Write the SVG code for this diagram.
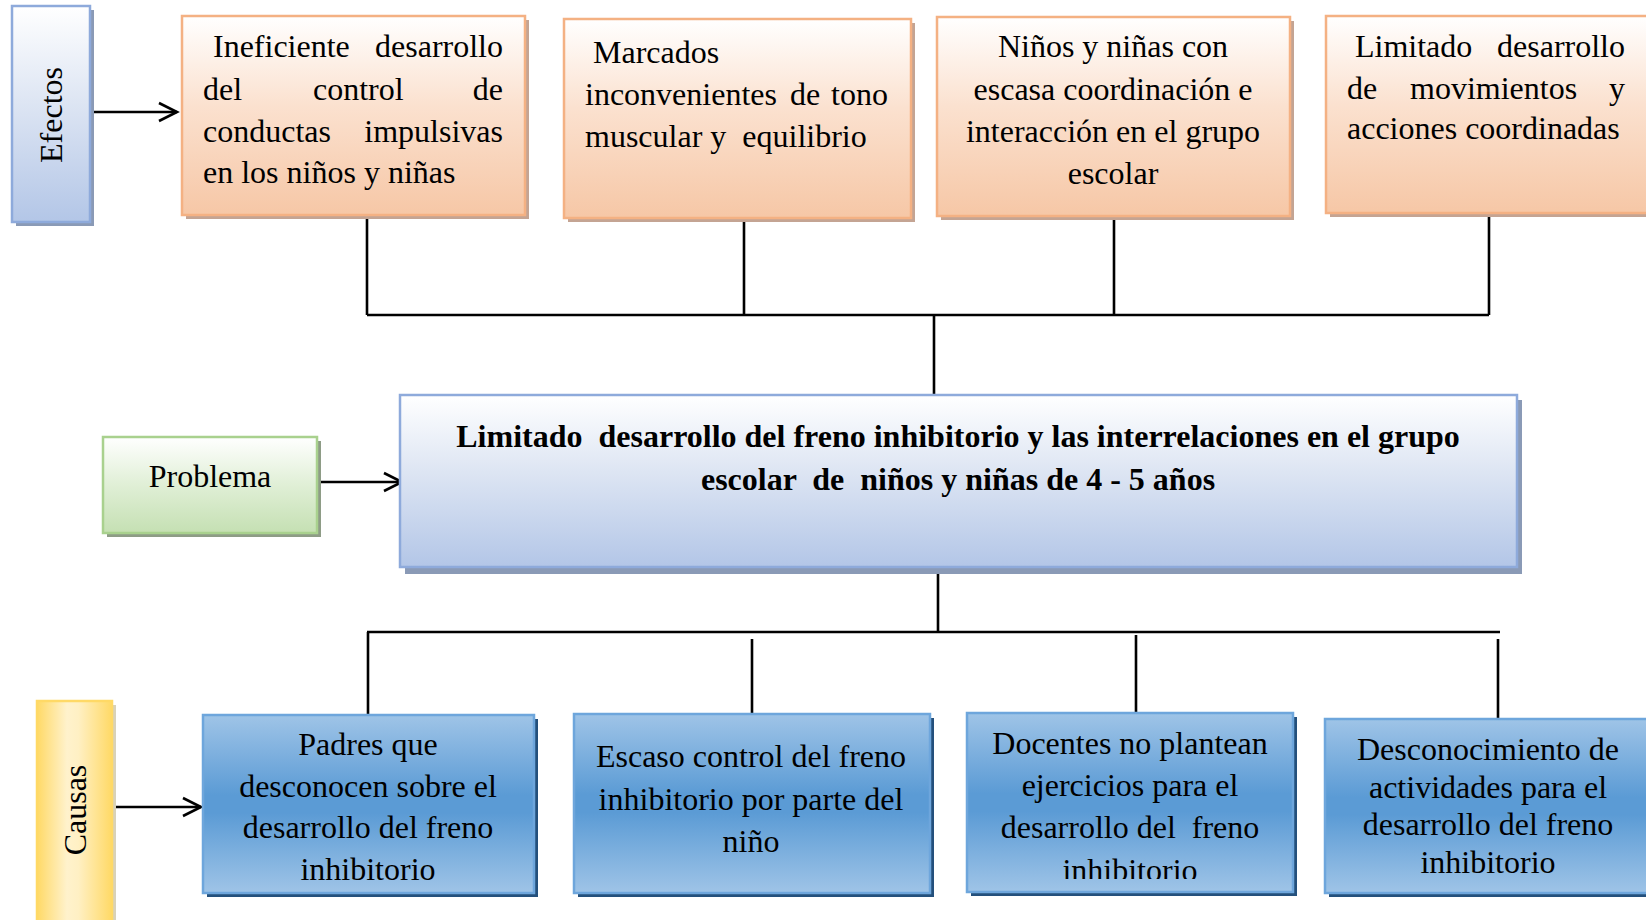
<svg xmlns="http://www.w3.org/2000/svg" width="1646" height="920" viewBox="0 0 1646 920">
<defs>
<linearGradient id="gOrange" x1="0" y1="0" x2="0" y2="1"><stop offset="0" stop-color="#ffffff"/><stop offset="0.45" stop-color="#fbe1cf"/><stop offset="1" stop-color="#f6c7a6"/></linearGradient>
<linearGradient id="gLav" x1="0" y1="0" x2="0" y2="1"><stop offset="0" stop-color="#ffffff"/><stop offset="0.45" stop-color="#dde5f3"/><stop offset="1" stop-color="#b3c6e7"/></linearGradient>
<linearGradient id="gGreen" x1="0" y1="0" x2="0" y2="1"><stop offset="0" stop-color="#ffffff"/><stop offset="0.5" stop-color="#e0efd6"/><stop offset="1" stop-color="#c5e0b3"/></linearGradient>
<linearGradient id="gBlue" x1="0" y1="0" x2="0" y2="1"><stop offset="0" stop-color="#9fc4e7"/><stop offset="0.45" stop-color="#5b9bd5"/><stop offset="0.55" stop-color="#5b9bd5"/><stop offset="1" stop-color="#9fc4e7"/></linearGradient>
<linearGradient id="gGold" x1="0" y1="0" x2="1" y2="0"><stop offset="0" stop-color="#ffd966"/><stop offset="0.4" stop-color="#fff2cc"/><stop offset="0.55" stop-color="#fff0c4"/><stop offset="1" stop-color="#ffd966"/></linearGradient>
<marker id="arr" markerUnits="userSpaceOnUse" markerWidth="24" markerHeight="24" viewBox="-20 -12 24 24" refX="0" refY="0" orient="auto"><path d="M-18,-9 L0,0 L-18,9" fill="none" stroke="#000" stroke-width="2.6"/></marker>
<clipPath id="clipB3"><rect x="967" y="713" width="326" height="166"/></clipPath>
</defs>
<style>
text{font-family:"Liberation Serif","Times New Roman",serif;font-size:32px;fill:#000;white-space:pre}
.b{font-weight:bold}
.m{text-anchor:middle}
.e{text-anchor:end}
.or{fill:url(#gOrange);stroke:#f4b183;stroke-width:2.5}
.orS{fill:#c4a493}
.lav{fill:url(#gLav);stroke:#8eaadb;stroke-width:2.5}
.lavS{fill:#8a9ab6}
.gr{fill:url(#gGreen);stroke:#a9d18e;stroke-width:2.5}
.grS{fill:#8e9c86}
.bl{fill:url(#gBlue);stroke:#6ea6dc;stroke-width:2.5}
.blS{fill:#24507c}
.go{fill:url(#gGold);stroke:#ffd966;stroke-width:2.5}
.goS{fill:#d9d2b8}
.ln{fill:none;stroke:#000;stroke-width:2.6}
</style>
<rect width="1646" height="920" fill="#ffffff"/>

<g id="connectors">
<path class="ln" d="M367,217 V315 M744,220 V315 M1114,217 V315 M1489,215 V315 M367,315 H1489 M934,315 V395"/>
<path class="ln" d="M938,569 V632 M367,632 H1500 M368,632 V715 M752,639 V714 M1136,635 V713 M1498,639 V719"/>
<line class="ln" x1="92" y1="112" x2="177" y2="112" marker-end="url(#arr)"/>
<line class="ln" x1="317" y1="482" x2="402" y2="482" marker-end="url(#arr)"/>
<line class="ln" x1="112" y1="807" x2="201" y2="807" marker-end="url(#arr)"/>
</g>

<g id="efectos">
<rect class="lavS" x="16" y="10" width="78" height="216"/>
<rect class="lav" x="12" y="6" width="78" height="216"/>
<text class="m" transform="translate(62,115) rotate(-90)">Efectos</text>
</g>

<g id="efecto1">
<rect class="orS" x="186" y="20" width="343" height="199"/>
<rect class="or" x="182" y="16" width="343" height="199"/>
<text x="213" y="57">Ineficiente</text><text class="e" x="503" y="57">desarrollo</text>
<text x="203" y="100">del</text><text x="313" y="100">control</text><text class="e" x="503" y="100">de</text>
<text x="203" y="142">conductas</text><text class="e" x="503" y="142">impulsivas</text>
<text x="203" y="183">en los niños y niñas</text>
</g>

<g id="efecto2">
<rect class="orS" x="568" y="23" width="347" height="199"/>
<rect class="or" x="564" y="19" width="347" height="199"/>
<text x="593" y="63">Marcados</text>
<text x="585" y="105">inconvenientes</text><text x="790" y="105">de</text><text class="e" x="888" y="105">tono</text>
<text x="585" y="147">muscular y  equilibrio</text>
</g>

<g id="efecto3">
<rect class="orS" x="941" y="21" width="353" height="199"/>
<rect class="or" x="937" y="17" width="353" height="199"/>
<text class="m" x="1113" y="57">Niños y niñas con</text>
<text class="m" x="1113" y="100">escasa coordinación e</text>
<text class="m" x="1113" y="142">interacción en el grupo</text>
<text class="m" x="1113" y="184">escolar</text>
</g>

<g id="efecto4">
<rect class="orS" x="1330" y="20" width="334" height="197"/>
<rect class="or" x="1326" y="16" width="334" height="197"/>
<text x="1355" y="57">Limitado</text><text class="e" x="1625" y="57">desarrollo</text>
<text x="1347" y="99">de</text><text x="1410" y="99">movimientos</text><text class="e" x="1625" y="99">y</text>
<text x="1347" y="139">acciones coordinadas</text>
</g>

<g id="problema-label">
<rect class="grS" x="107" y="441" width="214" height="96"/>
<rect class="gr" x="103" y="437" width="214" height="96"/>
<text class="m" x="210" y="487">Problema</text>
</g>

<g id="problema">
<rect class="lavS" x="405" y="400" width="1117" height="174"/>
<rect class="lav" x="400" y="395" width="1117" height="172"/>
<text class="b m" x="958" y="447">Limitado  desarrollo del freno inhibitorio y las interrelaciones en el grupo</text>
<text class="b m" x="958" y="490">escolar  de  niños y niñas de 4 - 5 años</text>
</g>

<g id="causas">
<rect class="goS" x="41" y="705" width="75" height="224"/>
<rect class="go" x="37" y="701" width="75" height="224"/>
<text class="m" transform="translate(86,810) rotate(-90)">Causas</text>
</g>

<g id="causa1">
<rect class="blS" x="207" y="719" width="331" height="178"/>
<rect class="bl" x="203" y="715" width="331" height="178"/>
<text class="m" x="368" y="755">Padres que</text>
<text class="m" x="368" y="797">desconocen sobre el</text>
<text class="m" x="368" y="838">desarrollo del freno</text>
<text class="m" x="368" y="880">inhibitorio</text>
</g>

<g id="causa2">
<rect class="blS" x="578" y="718" width="356" height="179"/>
<rect class="bl" x="574" y="714" width="356" height="179"/>
<text class="m" x="751" y="767">Escaso control del freno</text>
<text class="m" x="751" y="810">inhibitorio por parte del</text>
<text class="m" x="751" y="852">niño</text>
</g>

<g id="causa3">
<rect class="blS" x="971" y="717" width="326" height="179"/>
<rect class="bl" x="967" y="713" width="326" height="179"/>
<g clip-path="url(#clipB3)">
<text class="m" x="1130" y="754">Docentes no plantean</text>
<text class="m" x="1130" y="796">ejercicios para el</text>
<text class="m" x="1130" y="838">desarrollo del  freno</text>
<text class="m" x="1130" y="881">inhibitorio</text>
</g>
</g>

<g id="causa4">
<rect class="blS" x="1329" y="723" width="335" height="174"/>
<rect class="bl" x="1325" y="719" width="335" height="174"/>
<text class="m" x="1488" y="760">Desconocimiento de</text>
<text class="m" x="1488" y="798">actividades para el</text>
<text class="m" x="1488" y="835">desarrollo del freno</text>
<text class="m" x="1488" y="873">inhibitorio</text>
</g>
</svg>
